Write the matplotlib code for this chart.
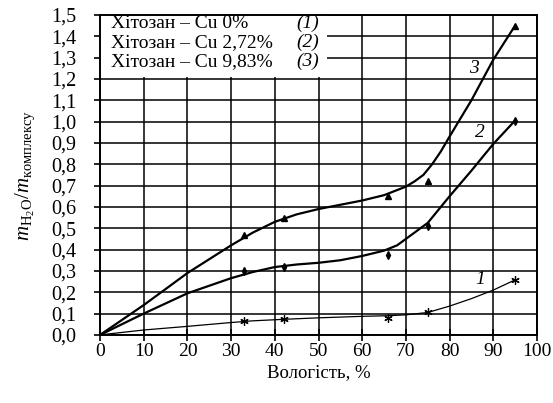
import matplotlib
matplotlib.use("Agg")
import matplotlib.pyplot as plt
from matplotlib.patches import Rectangle

plt.rcParams['font.family'] = ['Liberation Serif', 'DejaVu Serif']
plt.rcParams['mathtext.fontset'] = 'custom'
plt.rcParams['mathtext.rm'] = 'Liberation Serif'
plt.rcParams['mathtext.it'] = 'Liberation Serif:italic'

# measured points (Вологість, %)
hum = [33, 42, 66, 75, 95]
pts1 = [0.063, 0.073, 0.080, 0.105, 0.258]   # Cu 0%
pts2 = [0.300, 0.320, 0.375, 0.510, 1.005]   # Cu 2,72%
pts3 = [0.470, 0.550, 0.650, 0.720, 1.450]   # Cu 9,83%

# drawn curves
c1_x = [0, 10, 20, 30, 35, 42, 50, 60, 66, 70, 75, 80, 85, 90, 95]
c1_y = [0, 0.023, 0.040, 0.058, 0.066, 0.073, 0.080, 0.087, 0.090, 0.094, 0.105, 0.135, 0.170, 0.210, 0.258]
c2_x = [0, 10, 20, 30, 35, 40, 45, 50, 55, 60, 65, 68, 70, 72, 75, 80, 85, 90, 95]
c2_y = [0, 0.10, 0.195, 0.266, 0.295, 0.318, 0.330, 0.338, 0.350, 0.370, 0.395, 0.420, 0.450, 0.480, 0.525, 0.650, 0.770, 0.895, 1.005]
c3_x = [0, 10, 20, 30, 35, 40, 45, 50, 55, 60, 65, 70, 72, 74, 76, 78, 80, 85, 90, 95]
c3_y = [0, 0.14, 0.29, 0.42, 0.48, 0.53, 0.565, 0.59, 0.61, 0.63, 0.655, 0.695, 0.72, 0.75, 0.80, 0.86, 0.93, 1.10, 1.29, 1.45]

x_ticks = list(range(0, 101, 10))
y_ticks = [i / 10 for i in range(16)]
y_labels = [f"{v:.1f}".replace('.', ',') for v in y_ticks]

legend_rows = ["Хітозан – Cu 0%", "Хітозан – Cu 2,72%", "Хітозан – Cu 9,83%"]
legend_nums = ["(1)", "(2)", "(3)"]

fig = plt.figure(figsize=(5.53, 4.03), dpi=100)
ax = fig.add_axes([0.181, 0.169, 0.790, 0.794])

ax.plot(c1_x, c1_y, color='black', lw=0.9, zorder=3)
ax.plot(c2_x, c2_y, color='black', lw=1.6, zorder=3)
ax.plot(c3_x, c3_y, color='black', lw=1.6, zorder=3)
ax.plot(hum, pts1, linestyle='none', marker=(6, 2, 0), ms=6, mew=0.9, color='black', zorder=4)
ax.plot(hum, pts2, linestyle='none', marker='d', ms=4, color='black', zorder=4)
ax.plot(hum, pts3, linestyle='none', marker='^', ms=4, color='black', zorder=4)

ax.text(87, 0.26, '1', fontsize=14, style='italic', ha='center', va='center', zorder=5)
ax.text(87, 0.95, '2', fontsize=14, style='italic', ha='center', va='center', zorder=5)
ax.text(85.5, 1.25, '3', fontsize=14, style='italic', ha='center', va='center', zorder=5)

ax.set_xlim(0, 100)
ax.set_ylim(0, 1.5)
ax.set_xticks(x_ticks)
ax.set_xticklabels([str(v) for v in x_ticks])
ax.set_yticks(y_ticks)
ax.set_yticklabels(y_labels)
ax.tick_params(axis='x', direction='inout', length=8, width=1.2, labelsize=14, pad=2)
ax.tick_params(axis='y', direction='out', length=4, width=1.2, labelsize=14.5, pad=13)

ax.set_axisbelow(True)
ax.grid(True, color='black', lw=1.1)
for s in ax.spines.values():
    s.set_linewidth(1.4)

# legend box covering the grid in the top-left corner
ax.add_patch(Rectangle((0, 1.207), 52, 0.3, facecolor='white', edgecolor='none', zorder=1))
for i, (row, num) in enumerate(zip(legend_rows, legend_nums)):
    yy = 1.438 - i * 0.089
    ax.text(2.5, yy, row, fontsize=14, ha='left', va='baseline', zorder=5)
    ax.text(50.2, yy, num, fontsize=14, style='italic', ha='right', va='baseline', zorder=5)

ax.set_xlabel('Вологість, %', fontsize=13.5, labelpad=3)
ax.set_ylabel(r'$m_{\mathrm{H_2O}}/m_{\mathrm{комплексу}}$', fontsize=15, labelpad=10)

fig.savefig('out.png', dpi=100)
